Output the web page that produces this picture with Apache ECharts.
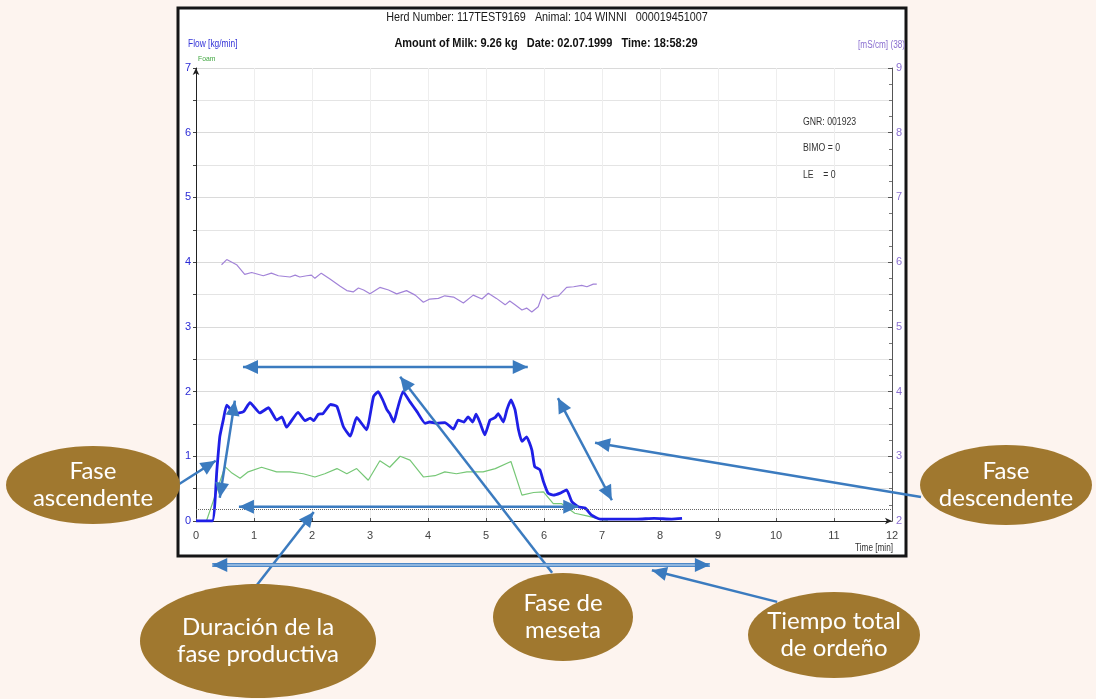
<!DOCTYPE html>
<html>
<head>
<meta charset="utf-8">
<title>Curva de flujo de leche</title>
<script src="https://cdn.jsdelivr.net/npm/echarts@6/dist/echarts.min.js"></script>
<style>
  html, body { margin: 0; padding: 0; background: #fdf4ef; }
  #chart { width: 1096px; height: 699px; }
</style>
</head>
<body>
<div id="chart"></div>
<script>
// Milk flow [kg/min] over time [min]
const flowTime = [0, 0.28, 0.36, 0.41, 0.47, 0.53, 0.67, 0.82, 0.93, 1.10, 1.25, 1.39, 1.48, 1.56, 1.76,
  1.88, 1.97, 2.03, 2.11, 2.19, 2.32, 2.43, 2.54, 2.66, 2.77, 2.94, 3.06, 3.14, 3.22, 3.29,
  3.34, 3.41, 3.47, 3.57, 3.69, 3.81, 3.95, 4.03, 4.15, 4.29, 4.44, 4.52, 4.62, 4.69, 4.77,
  4.83, 4.90, 4.98, 5.07, 5.16, 5.21, 5.30, 5.36, 5.43, 5.50, 5.56, 5.62, 5.70, 5.79, 5.84,
  5.93, 5.99, 6.07, 6.16, 6.28, 6.39, 6.48, 6.59, 6.71, 6.82, 6.97, 7.3, 7.6, 7.9, 8.2, 8.38];
const flowValues = [0, 0, 0.79, 1.30, 1.56, 1.79, 1.66, 1.69, 1.83, 1.67, 1.75, 1.56, 1.61, 1.45, 1.68,
  1.55, 1.59, 1.55, 1.65, 1.66, 1.80, 1.77, 1.46, 1.31, 1.60, 1.41, 1.92, 2.00, 1.87, 1.72,
  1.66, 1.53, 1.72, 2.00, 1.84, 1.69, 1.51, 1.53, 1.51, 1.52, 1.42, 1.56, 1.53, 1.61, 1.53,
  1.65, 1.51, 1.33, 1.56, 1.60, 1.66, 1.53, 1.72, 1.87, 1.72, 1.41, 1.23, 1.30, 1.10, 0.84,
  0.79, 0.61, 0.43, 0.40, 0.43, 0.48, 0.30, 0.22, 0.20, 0.09, 0.03, 0.03, 0.03, 0.04, 0.03, 0.04];

// Foam [kg/min]
const foamTime = [0, 0.18, 0.5, 0.62, 0.76, 0.90, 1.13, 1.39, 1.62, 1.85, 2.05, 2.22, 2.43, 2.60, 2.77,
  2.97, 3.17, 3.34, 3.52, 3.69, 3.92, 4.12, 4.29, 4.49, 4.67, 4.95, 5.16, 5.43, 5.62, 5.82,
  5.99, 6.16, 6.30, 6.53, 6.74, 7.0, 7.1];
const foamValues = [0, 0, 0.84, 0.74, 0.66, 0.76, 0.83, 0.76, 0.76, 0.73, 0.68, 0.73, 0.81, 0.73, 0.81,
  0.63, 0.93, 0.83, 1.00, 0.94, 0.68, 0.70, 0.76, 0.73, 0.76, 0.76, 0.81, 0.92, 0.40, 0.44,
  0.45, 0.27, 0.27, 0.12, 0.08, 0.02, 0.01];

// Conductivity [mS/cm]
const condTime = [0.44, 0.53, 0.70, 0.84, 0.96, 1.16, 1.30, 1.42, 1.62, 1.71, 1.79, 1.91, 1.99, 2.05, 2.16,
  2.31, 2.48, 2.60, 2.71, 2.80, 2.89, 3.00, 3.17, 3.32, 3.46, 3.63, 3.78, 3.92, 4.03, 4.18,
  4.29, 4.44, 4.61, 4.78, 4.93, 5.04, 5.18, 5.33, 5.41, 5.50, 5.62, 5.70, 5.79, 5.90, 5.98,
  6.07, 6.16, 6.25, 6.39, 6.51, 6.65, 6.74, 6.85, 6.91];
const condValues = [5.96, 6.04, 5.96, 5.81, 5.84, 5.79, 5.83, 5.79, 5.77, 5.80, 5.77, 5.79, 5.80, 5.75, 5.83,
  5.74, 5.63, 5.56, 5.54, 5.60, 5.57, 5.51, 5.61, 5.57, 5.51, 5.56, 5.49, 5.38, 5.43, 5.44,
  5.48, 5.46, 5.37, 5.49, 5.43, 5.52, 5.44, 5.34, 5.40, 5.34, 5.26, 5.29, 5.23, 5.31, 5.51,
  5.43, 5.47, 5.48, 5.61, 5.62, 5.64, 5.62, 5.66, 5.66];

// Flow threshold line [kg/min]
const thresholdFlow = 0.18;

// Header and info texts
const headerLine1 = 'Herd Number: 117TEST9169   Animal: 104 WINNI   000019451007';
const headerLine2 = 'Amount of Milk: 9.26 kg   Date: 02.07.1999   Time: 18:58:29';
const infoLines = ['GNR: 001923', 'BIMO = 0', 'LE    = 0'];

// Phase annotations: arrows in chart units [time, flow]
const phaseArrows = [
  { from: [0.81, 2.38], to: [5.72, 2.38], both: true },     // plateau span
  { from: [6.14, -0.80], to: [3.52, 2.23], both: false },   // plateau label pointer
  { from: [0.41, 0.36], to: [0.67, 1.86], both: true },     // rising span
  { from: [-0.31, 0.56], to: [0.34, 0.93], both: false },   // rising label pointer
  { from: [6.24, 1.90], to: [7.17, 0.32], both: true },     // falling span
  { from: [12.5, 0.37], to: [6.88, 1.21], both: false },    // falling label pointer
  { from: [0.74, 0.22], to: [6.59, 0.22], both: true },     // productive span
  { from: [1.05, -0.99], to: [2.03, 0.14], both: false },   // productive label pointer
  { from: [0.28, -0.68], to: [8.86, -0.68], both: true, doubleLine: true }, // total time span
  { from: [10.02, -1.25], to: [7.86, -0.76], both: false }  // total time label pointer
];

// Label bubbles
const phaseLabels = [
  { text: 'Fase\nascendente', cx: 93, cy: 485, rx: 87, ry: 39 },
  { text: 'Fase\ndescendente', cx: 1006, cy: 485, rx: 86, ry: 40 },
  { text: 'Duración de la\nfase productiva', cx: 258, cy: 641, rx: 118, ry: 57 },
  { text: 'Fase de\nmeseta', cx: 563, cy: 617, rx: 70, ry: 44 },
  { text: 'Tiempo total\nde ordeño', cx: 834, cy: 635, rx: 86, ry: 43 }
];

const zip = (xs, ys) => xs.map((x, i) => [x, ys[i]]);

const ARROW = '#3b7bbf';
const BUBBLE = '#a0782f';
const NARROW = 'Liberation Sans';

const chart = echarts.init(document.getElementById('chart'), null, { renderer: 'canvas' });

chart.setOption({
  backgroundColor: '#fdf4ef',
  animation: false,
  grid: { left: 196, right: 204, top: 68, bottom: 178, containLabel: false },
  xAxis: {
    type: 'value', min: 0, max: 12, interval: 1,
    axisLine: { show: true, lineStyle: { color: '#222', width: 1 }, symbol: ['none', 'arrow'], symbolSize: [5, 7] },
    axisTick: { show: true, inside: true, length: 3, lineStyle: { color: '#555' } },
    axisLabel: { color: '#444', fontSize: 11, fontFamily: NARROW, margin: 9 },
    splitLine: { show: true, lineStyle: { color: '#eeeeee', width: 1 } }
  },
  yAxis: [
    {
      type: 'value', min: 0, max: 7, interval: 1, position: 'left',
      axisLine: { show: true, lineStyle: { color: '#222', width: 1 }, symbol: ['none', 'arrow'], symbolSize: [5, 7] },
      axisTick: { show: true, length: 3, lineStyle: { color: '#444' } },
      minorTick: { show: true, splitNumber: 2, length: 3, lineStyle: { color: '#444' } },
      axisLabel: { color: '#2b2bd6', fontSize: 11, fontFamily: NARROW, margin: 5 },
      splitLine: { show: true, lineStyle: { color: '#dadada', width: 1 } },
      minorSplitLine: { show: true, lineStyle: { color: '#e4e4e4', width: 1 } }
    },
    {
      type: 'value', min: 2, max: 9, interval: 1, position: 'right',
      axisLine: { show: true, lineStyle: { color: '#555', width: 1 } },
      axisTick: { show: true, inside: true, length: 4, lineStyle: { color: '#555' } },
      minorTick: { show: true, splitNumber: 4, length: 3, lineStyle: { color: '#777' } },
      axisLabel: { color: '#8a6fd0', fontSize: 11, fontFamily: NARROW, margin: 4 },
      splitLine: { show: false }
    }
  ],
  series: [
    {
      name: 'Foam', type: 'line', yAxisIndex: 0, data: zip(foamTime, foamValues),
      showSymbol: false, lineStyle: { color: '#76c776', width: 1.2 }, z: 2
    },
    {
      name: 'Conductivity', type: 'line', yAxisIndex: 1, data: zip(condTime, condValues),
      showSymbol: false, lineStyle: { color: '#a283d8', width: 1.2 }, z: 2
    },
    {
      name: 'Flow', type: 'line', yAxisIndex: 0, data: zip(flowTime, flowValues),
      showSymbol: false, smooth: 0.15, lineStyle: { color: '#1f1fe6', width: 2.8 }, z: 3,
      markLine: {
        silent: true, symbol: ['none', 'none'], label: { show: false },
        lineStyle: { type: 'dotted', color: '#666', width: 1 },
        data: [{ yAxis: thresholdFlow }]
      }
    }
  ]
});

// Arrow helpers working in pixel space
function arrowHead(tip, from) {
  const dx = tip[0] - from[0], dy = tip[1] - from[1];
  const L = Math.hypot(dx, dy) || 1;
  const ux = dx / L, uy = dy / L;
  const len = 15, w = 7;
  const bx = tip[0] - ux * len, by = tip[1] - uy * len;
  return {
    type: 'polygon', silent: true, z: 61,
    shape: { points: [tip, [bx - uy * w, by + ux * w], [bx + uy * w, by - ux * w]] },
    style: { fill: ARROW }
  };
}

function arrowElements(a) {
  const p0 = chart.convertToPixel({ gridIndex: 0 }, a.from);
  const p1 = chart.convertToPixel({ gridIndex: 0 }, a.to);
  const els = [];
  if (a.doubleLine) {
    els.push({ type: 'line', silent: true, z: 60, shape: { x1: p0[0], y1: p0[1], x2: p1[0], y2: p1[1] },
      style: { stroke: '#4d88c8', lineWidth: 4 } });
    els.push({ type: 'line', silent: true, z: 60, shape: { x1: p0[0], y1: p0[1], x2: p1[0], y2: p1[1] },
      style: { stroke: '#d3e3f4', lineWidth: 1.2 } });
  } else {
    els.push({ type: 'line', silent: true, z: 60, shape: { x1: p0[0], y1: p0[1], x2: p1[0], y2: p1[1] },
      style: { stroke: ARROW, lineWidth: 2.5 } });
  }
  els.push(arrowHead(p1, p0));
  if (a.both) els.push(arrowHead(p0, p1));
  return els;
}

function narrowText(text, x, y, font, fill, align, scaleX) {
  return {
    type: 'text', x: x, y: y, scaleX: scaleX, silent: true, z: 10,
    style: { text: text, font: font, fill: fill, align: align, textAlign: align,
      verticalAlign: 'middle', textVerticalAlign: 'middle' }
  };
}

const graphics = [];

// Chart frame
graphics.push({
  type: 'rect', z: -1, silent: true,
  shape: { x: 178, y: 8, width: 728, height: 548 },
  style: { fill: '#ffffff', stroke: '#151515', lineWidth: 3 }
});

// Header
graphics.push(narrowText(headerLine1, 547, 18, '12px ' + NARROW, '#1a1a1a', 'center', 0.90));
graphics.push(narrowText(headerLine2, 546, 43, 'bold 13px ' + NARROW, '#111', 'center', 0.845));

// Axis captions
graphics.push(narrowText('Flow [kg/min]', 188, 44, '10px ' + NARROW, '#3434d8', 'left', 0.84));
graphics.push(narrowText('Foam', 198, 59, '8px ' + NARROW, '#3fa63f', 'left', 0.85));
graphics.push(narrowText('[mS/cm] (38)', 905, 45, '10px ' + NARROW, '#8a6fd0', 'right', 0.82));
graphics.push(narrowText('Time [min]', 893, 548, '10px ' + NARROW, '#333', 'right', 0.82));

// Info block
infoLines.forEach((t, i) => {
  graphics.push(narrowText(t, 803, 122 + i * 26.5, '10px ' + NARROW, '#333', 'left', 0.87));
});

// Arrows
phaseArrows.forEach(a => { arrowElements(a).forEach(e => graphics.push(e)); });

// Bubbles
phaseLabels.forEach(b => {
  graphics.push({ type: 'ellipse', silent: true, z: 70,
    shape: { cx: b.cx, cy: b.cy, rx: b.rx, ry: b.ry }, style: { fill: BUBBLE } });
  graphics.push({ type: 'text', silent: true, z: 71, x: b.cx, y: b.cy,
    style: { text: b.text, font: '24px Lato', fill: '#ffffff', align: 'center', textAlign: 'center',
      verticalAlign: 'middle', textVerticalAlign: 'middle', lineHeight: 27 } });
});

chart.setOption({ graphic: graphics });
</script>
</body>
</html>
